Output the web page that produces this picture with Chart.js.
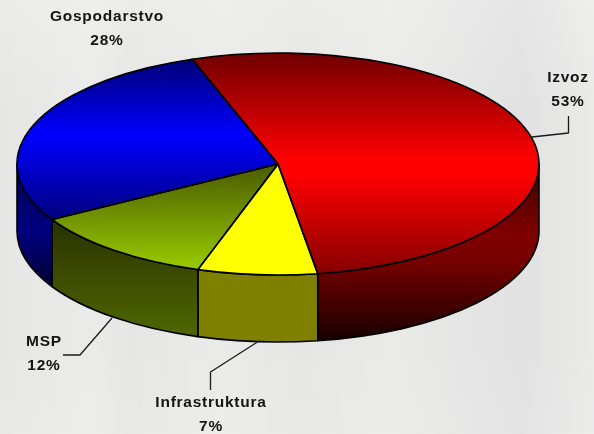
<!DOCTYPE html>
<html>
<head>
<meta charset="utf-8">
<title>Struktura</title>
<script src="https://cdn.jsdelivr.net/npm/chart.js@4"></script>
<style>
  html, body { margin: 0; padding: 0; }
  body {
    width: 594px; height: 434px; overflow: hidden;
    background-color: #e6e6e5;
    background-image:
      linear-gradient(90deg, rgba(255,255,255,0) 0, rgba(255,255,255,.18) 90px, rgba(255,255,255,0) 130px,
        rgba(255,255,255,.16) 220px, rgba(255,255,255,0) 300px, rgba(255,255,255,.15) 390px,
        rgba(200,205,205,.18) 520px, rgba(255,255,255,.15) 594px),
      linear-gradient(180deg, rgba(255,255,255,.2) 0, rgba(255,255,255,0) 110px, rgba(255,255,255,0) 340px, rgba(255,255,255,.1) 434px);
  }
  canvas { display: block; }
</style>
</head>
<body>
<canvas id="pieChart" width="594" height="434"></canvas>
<script>
const categories = ["Izvoz", "Infrastruktura", "MSP", "Gospodarstvo"];
const shares = [52.9, 7.4, 11.7, 28];

// Elipsa gornje plohe i visina plašta
const pie = { cx: 278, cy: 164, rx: 261, ry: 111, depth: 67 };
const startRotation = -19.2;

// Gradijenti: [y, boja]
const topStops = [
  [[53, "#700000"], [160, "#ff0000"], [175, "#ff0000"], [274, "#850000"]],
  [[164, "#ffff00"], [275, "#ffff00"]],
  [[164, "#4a5a00"], [270, "#99cc00"]],
  [[60, "#000078"], [135, "#0000ff"], [218, "#000080"]],
];
const sideStops = [
  [[165, "#400000"], [235, "#800000"], [262, "#760000"], [341, "#180000"]],
  [[270, "#808000"], [341, "#808000"]],
  [[222, "#2a3300"], [335, "#4f6600"]],
  [[165, "#000050"], [230, "#000080"], [285, "#000038"]],
];

// Oznake i linije do njih
const labelPlaces = [
  { x: 568, y: 78, leader: [[532, 137], [568.5, 133], [568.5, 116]] },
  { x: 211, y: 403, leader: [[259, 341], [210.5, 372], [210.5, 390]] },
  { x: 44, y: 342, leader: [[112, 318], [80, 355], [63, 355]] },
  { x: 107, y: 17, leader: null },
];

function makeGradient(ctx, stops, toY) {
  const y0 = stops[0][0];
  const y1 = stops[stops.length - 1][0];
  const g = ctx.createLinearGradient(0, toY(y0), 0, toY(y1));
  stops.forEach(s => g.addColorStop((s[0] - y0) / (y1 - y0), s[1]));
  return g;
}

// Y na platnu -> y u koordinatama kruga koji crta Chart.js (centar i polumjer = pola visine)
function chartY(chart, y) {
  const r = chart.height / 2;
  return r + (y - pie.cy) * r / pie.ry;
}

const pie3d = {
  id: "pie3d",
  beforeDatasetsDraw(chart) {
    const ctx = chart.ctx;
    const arcs = chart.getDatasetMeta(0).data;
    ctx.save();
    // plašt: samo donja polovica elipse
    arcs.forEach((arc, i) => {
      [0, Math.PI * 2].forEach(shift => {
        const a = Math.max(arc.startAngle, shift);
        const b = Math.min(arc.endAngle, shift + Math.PI);
        if (b <= a) return;
        ctx.beginPath();
        ctx.ellipse(pie.cx, pie.cy, pie.rx, pie.ry, 0, a, b);
        ctx.ellipse(pie.cx, pie.cy + pie.depth, pie.rx, pie.ry, 0, b, a, true);
        ctx.closePath();
        ctx.fillStyle = makeGradient(ctx, sideStops[i], y => y);
        ctx.fill();
        ctx.lineWidth = 1.6;
        ctx.strokeStyle = "#000";
        ctx.lineJoin = "round";
        ctx.stroke();
      });
    });
    ctx.restore();

    // gornju plohu Chart.js crta kao krug pa je spljoštimo u elipsu
    const first = arcs[0];
    const r = first.outerRadius;
    ctx.save();
    ctx.translate(pie.cx, pie.cy);
    ctx.scale(pie.rx / r, pie.ry / r);
    ctx.translate(-first.x, -first.y);
  },
  afterDatasetsDraw(chart) {
    const ctx = chart.ctx;
    ctx.restore();
    const arcs = chart.getDatasetMeta(0).data;

    ctx.save();
    ctx.lineWidth = 1.6;
    ctx.strokeStyle = "#000";
    ctx.lineJoin = "round";
    arcs.forEach(arc => {
      ctx.beginPath();
      ctx.moveTo(pie.cx, pie.cy);
      ctx.ellipse(pie.cx, pie.cy, pie.rx, pie.ry, 0, arc.startAngle, arc.endAngle);
      ctx.closePath();
      ctx.stroke();
    });

    // linije i tekst
    ctx.strokeStyle = "#1a1a1a";
    ctx.lineWidth = 1.3;
    labelPlaces.forEach(p => {
      if (!p.leader) return;
      ctx.beginPath();
      p.leader.forEach((pt, k) => k ? ctx.lineTo(pt[0], pt[1]) : ctx.moveTo(pt[0], pt[1]));
      ctx.stroke();
    });
    ctx.fillStyle = "#141414";
    ctx.font = "bold 15.5px 'Liberation Sans', Arial, sans-serif";
    ctx.letterSpacing = "0.75px";
    ctx.textAlign = "center";
    ctx.textBaseline = "middle";
    categories.forEach((name, i) => {
      const p = labelPlaces[i];
      ctx.fillText(name, p.x, p.y);
      ctx.fillText(Math.round(shares[i]) + "%", p.x, p.y + 23.5);
    });
    ctx.restore();
  },
};

new Chart(document.getElementById("pieChart"), {
  type: "pie",
  data: {
    labels: categories,
    datasets: [
      {
        data: shares,
        borderWidth: 0,
        backgroundColor: c => makeGradient(c.chart.ctx, topStops[c.dataIndex], y => chartY(c.chart, y)),
      },
    ],
  },
  options: {
    responsive: false,
    animation: false,
    rotation: startRotation,
    plugins: {
      legend: { display: false },
      tooltip: { enabled: false },
    },
  },
  plugins: [pie3d],
});
</script>
</body>
</html>
